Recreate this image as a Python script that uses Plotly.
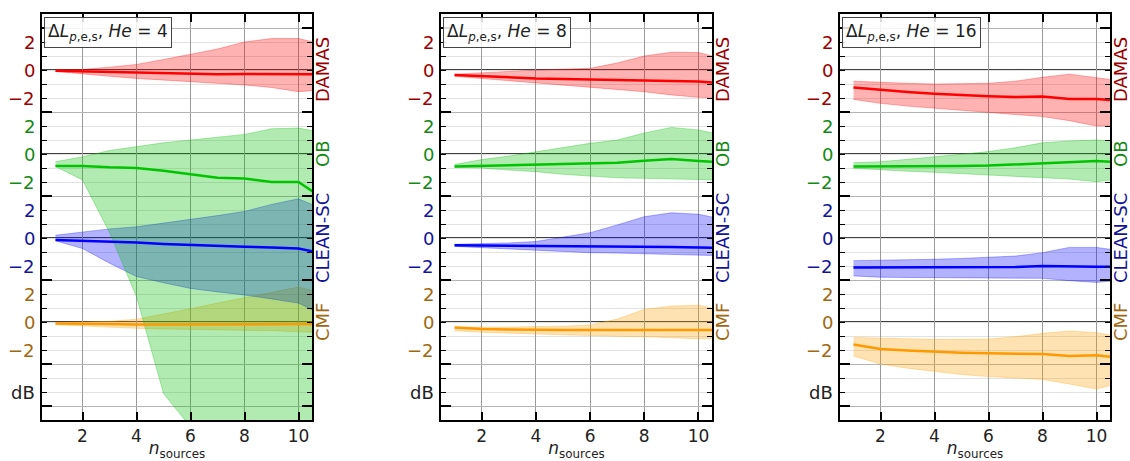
import plotly.graph_objects as go

# ---------------- data ----------------
n_sources = [1, 2, 3, 4, 5, 6, 7, 8, 9, 10, 11]
methods = ["DAMAS", "OB", "CLEAN-SC", "CMF"]
band_offsets = [0, -6, -12, -18]
he_values = [4, 8, 16]
ytick_rel = [2, 0, -2]
ytick_text = ["2", "0", "\u22122"]
band_boundaries = [3, -3, -9, -15, -21, -24]
xtick_vals = [2, 4, 6, 8, 10]

# He = 4
he4_damas_mean = [-0.05, -0.1, -0.15, -0.2, -0.25, -0.3, -0.3, -0.28, -0.28, -0.3, -0.3]
he4_damas_lo = [-0.1, -0.3, -0.45, -0.6, -0.72, -0.83, -0.95, -1.07, -1.25, -1.55, -1.4]
he4_damas_hi = [0.0, 0.05, 0.2, 0.4, 0.75, 1.1, 1.5, 2.0, 2.25, 2.25, 1.8]
he4_ob_mean = [-0.85, -0.85, -0.95, -1.0, -1.2, -1.45, -1.7, -1.75, -2.0, -2.0, -3.3]
he4_ob_lo = [-0.9, -1.85, -5.6, -10.2, -17.1, -19.5, -20.0, -20.0, -20.0, -20.0, -20.0]
he4_ob_hi = [-0.55, -0.2, 0.25, 0.55, 0.8, 1.0, 1.2, 1.4, 1.8, 1.85, 1.5]
he4_clean_mean = [-0.15, -0.2, -0.25, -0.33, -0.42, -0.5, -0.57, -0.62, -0.68, -0.75, -1.15]
he4_clean_lo = [-0.2, -0.75, -1.8, -2.75, -3.2, -3.6, -3.85, -4.07, -4.35, -4.65, -5.6]
he4_clean_hi = [0.2, 0.45, 0.65, 0.8, 1.05, 1.3, 1.6, 1.9, 2.4, 2.8, 2.0]
he4_cmf_mean = [-0.1, -0.15, -0.15, -0.17, -0.17, -0.17, -0.17, -0.15, -0.15, -0.15, -0.15]
he4_cmf_lo = [-0.2, -0.3, -0.38, -0.45, -0.5, -0.53, -0.55, -0.57, -0.62, -0.7, -0.75]
he4_cmf_hi = [-0.05, 0.0, 0.05, 0.2, 0.55, 0.95, 1.35, 1.75, 2.1, 2.5, 2.0]

# He = 8
he8_damas_mean = [-0.35, -0.45, -0.52, -0.6, -0.64, -0.67, -0.7, -0.72, -0.78, -0.83, -0.95]
he8_damas_lo = [-0.45, -0.6, -0.78, -0.95, -1.1, -1.24, -1.4, -1.55, -1.78, -1.95, -2.0]
he8_damas_hi = [-0.3, -0.22, -0.1, 0.0, 0.05, 0.12, 0.5, 1.0, 1.27, 1.25, 0.75]
he8_ob_mean = [-0.9, -0.86, -0.82, -0.79, -0.73, -0.67, -0.62, -0.48, -0.36, -0.5, -0.6]
he8_ob_lo = [-0.95, -1.0, -1.15, -1.26, -1.45, -1.6, -1.7, -1.74, -1.76, -1.82, -1.9]
he8_ob_hi = [-0.75, -0.4, -0.15, 0.15, 0.5, 0.76, 1.0, 1.5, 1.9, 1.72, 1.3]
he8_clean_mean = [-0.52, -0.53, -0.55, -0.57, -0.6, -0.62, -0.63, -0.63, -0.65, -0.68, -0.7]
he8_clean_lo = [-0.6, -0.7, -0.8, -0.9, -0.98, -1.05, -1.08, -1.12, -1.18, -1.24, -1.27]
he8_clean_hi = [-0.45, -0.42, -0.35, -0.25, 0.05, 0.38, 0.93, 1.52, 1.8, 1.7, 1.3]
he8_cmf_mean = [-0.4, -0.5, -0.54, -0.57, -0.57, -0.57, -0.57, -0.55, -0.56, -0.57, -0.58]
he8_cmf_lo = [-0.62, -0.74, -0.8, -0.86, -0.93, -0.98, -1.02, -1.05, -1.15, -1.2, -1.15]
he8_cmf_hi = [-0.35, -0.38, -0.37, -0.33, -0.3, -0.21, 0.21, 0.9, 1.14, 1.2, 0.8]

# He = 16
he16_damas_mean = [-1.25, -1.43, -1.57, -1.7, -1.8, -1.88, -1.93, -1.9, -2.07, -2.07, -2.2]
he16_damas_lo = [-2.1, -2.38, -2.58, -2.74, -2.9, -3.02, -3.18, -3.33, -3.62, -4.0, -4.0]
he16_damas_hi = [-0.8, -0.9, -0.95, -1.0, -1.0, -0.95, -0.8, -0.52, -0.3, -0.52, -0.8]
he16_ob_mean = [-0.9, -0.9, -0.88, -0.86, -0.85, -0.83, -0.76, -0.68, -0.62, -0.5, -0.6]
he16_ob_lo = [-1.02, -1.14, -1.23, -1.31, -1.4, -1.5, -1.58, -1.67, -1.79, -1.98, -1.75]
he16_ob_hi = [-0.62, -0.55, -0.38, -0.2, 0.0, 0.17, 0.45, 0.8, 0.93, 1.0, 0.9]
he16_clean_mean = [-2.1, -2.1, -2.1, -2.1, -2.1, -2.1, -2.08, -2.0, -2.05, -2.05, -2.05]
he16_clean_lo = [-2.71, -2.8, -2.82, -2.83, -2.83, -2.83, -2.85, -2.88, -3.05, -3.17, -3.0]
he16_clean_hi = [-1.62, -1.6, -1.56, -1.52, -1.46, -1.4, -1.29, -1.05, -0.67, -0.67, -0.95]
he16_cmf_mean = [-1.6, -1.93, -2.03, -2.12, -2.19, -2.24, -2.27, -2.29, -2.43, -2.38, -2.6]
he16_cmf_lo = [-2.43, -3.0, -3.3, -3.55, -3.75, -3.9, -4.0, -4.1, -4.43, -4.79, -4.3]
he16_cmf_hi = [-1.1, -1.17, -1.2, -1.24, -1.24, -1.22, -1.05, -0.81, -0.64, -0.76, -1.1]

panels = [
    {"DAMAS": (he4_damas_mean, he4_damas_lo, he4_damas_hi),
     "OB": (he4_ob_mean, he4_ob_lo, he4_ob_hi),
     "CLEAN-SC": (he4_clean_mean, he4_clean_lo, he4_clean_hi),
     "CMF": (he4_cmf_mean, he4_cmf_lo, he4_cmf_hi)},
    {"DAMAS": (he8_damas_mean, he8_damas_lo, he8_damas_hi),
     "OB": (he8_ob_mean, he8_ob_lo, he8_ob_hi),
     "CLEAN-SC": (he8_clean_mean, he8_clean_lo, he8_clean_hi),
     "CMF": (he8_cmf_mean, he8_cmf_lo, he8_cmf_hi)},
    {"DAMAS": (he16_damas_mean, he16_damas_lo, he16_damas_hi),
     "OB": (he16_ob_mean, he16_ob_lo, he16_ob_hi),
     "CLEAN-SC": (he16_clean_mean, he16_clean_lo, he16_clean_hi),
     "CMF": (he16_cmf_mean, he16_cmf_lo, he16_cmf_hi)},
]

# ---------------- styles ----------------
line_colors = {"DAMAS": "#ff0000", "OB": "#00c400", "CLEAN-SC": "#0000ff", "CMF": "#ff9900"}
fill_colors = {"DAMAS": "rgba(255,0,0,0.3)", "OB": "rgba(0,190,0,0.3)",
               "CLEAN-SC": "rgba(0,0,255,0.3)", "CMF": "rgba(255,160,0,0.3)"}
label_colors = {"DAMAS": "#9a0000", "OB": "#138a13", "CLEAN-SC": "#14149a", "CMF": "#a0680f"}
offset_of = dict(zip(methods, band_offsets))

W, H = 1130, 461
x_domains = [(42 / W, 312 / W), (441 / W, 712 / W), (840 / W, 1110 / W)]
y_domain = (41 / H, 447 / H)
FONT = "DejaVu Sans"

fig = go.Figure()
shapes = []
annotations = []

for p, data in enumerate(panels):
    k = "" if p == 0 else str(p + 1)
    xa, ya = "x" + k, "y" + k
    # fills (drawn in reverse order so that OB lies over CLEAN-SC)
    for m in reversed(methods):
        mean, lo, hi = data[m]
        off = offset_of[m]
        fig.add_trace(go.Scatter(x=n_sources, y=[v + off for v in lo], mode="lines",
                                 line=dict(color=fill_colors[m], width=1),
                                 xaxis=xa, yaxis=ya, showlegend=False, hoverinfo="skip"))
        fig.add_trace(go.Scatter(x=n_sources, y=[v + off for v in hi], mode="lines",
                                 line=dict(color=fill_colors[m], width=1),
                                 fill="tonexty", fillcolor=fill_colors[m],
                                 xaxis=xa, yaxis=ya, showlegend=False, hoverinfo="skip"))
    for m in methods:
        mean, lo, hi = data[m]
        off = offset_of[m]
        fig.add_trace(go.Scatter(x=n_sources, y=[v + off for v in mean], mode="lines",
                                 line=dict(color=line_colors[m], width=2.5),
                                 xaxis=xa, yaxis=ya, showlegend=False))

    fig.layout["xaxis" + k] = dict(
        domain=x_domains[p], anchor=ya, range=[0.5, 10.5],
        tickvals=xtick_vals, ticks="inside", ticklen=8, tickwidth=1.5, tickcolor="black",
        showline=True, linecolor="black", linewidth=1.5, mirror="allticks",
        showgrid=True, gridcolor="#9a9a9a", gridwidth=1, zeroline=False,
        tickfont=dict(family=FONT, size=17, color="#222"),
        title=dict(text="<i>n</i><sub>sources</sub>", standoff=2,
                   font=dict(family=FONT, size=17, color="#222")),
    )
    fig.layout["yaxis" + k] = dict(
        domain=y_domain, anchor=xa, range=[-25, 4],
        tickvals=band_boundaries, ticks="inside", ticklen=10, tickwidth=1.5, tickcolor="black",
        showticklabels=False, showline=True, linecolor="black", linewidth=1.5, mirror="allticks",
        showgrid=True, gridcolor="#b4b4b4", gridwidth=1, zeroline=False,
        minor=dict(dtick=1, tick0=0, ticks="inside", ticklen=5, tickwidth=1.2, tickcolor="black",
                   showgrid=True, gridcolor="#e2e2e2", gridwidth=1),
    )

    for m in methods:
        off = offset_of[m]
        shapes.append(dict(type="line", xref=xa + " domain", x0=0, x1=1, yref=ya, y0=off, y1=off,
                           line=dict(color="black", width=1.6), layer="below"))
        for v, t in zip(ytick_rel, ytick_text):
            annotations.append(dict(xref=xa + " domain", x=0, xanchor="right", xshift=-5,
                                    yref=ya, y=off + v, yanchor="middle", text=t, showarrow=False,
                                    font=dict(family=FONT, size=18, color=label_colors[m])))
        annotations.append(dict(xref=xa + " domain", x=1, xanchor="center", xshift=10,
                                yref=ya, y=off, yanchor="middle", text=m, textangle=-90,
                                showarrow=False,
                                font=dict(family=FONT, size=18, color=label_colors[m])))
    annotations.append(dict(xref=xa + " domain", x=0, xanchor="right", xshift=-5,
                            yref=ya, y=-23, yanchor="middle", text="dB", showarrow=False,
                            font=dict(family=FONT, size=18, color="#222")))
    annotations.append(dict(xref=xa + " domain", x=0, xanchor="left", xshift=2,
                            yref=ya + " domain", y=1, yanchor="top", yshift=-3,
                            text="\u0394<i>L</i><sub><i>p</i>,e,s</sub>, <i>He</i> = %d" % he_values[p],
                            showarrow=False, bgcolor="rgba(255,255,255,0.85)",
                            bordercolor="#444", borderwidth=1, borderpad=3,
                            font=dict(family=FONT, size=17, color="#222")))

fig.update_layout(width=W, height=H, autosize=False,
                  margin=dict(l=0, r=0, t=0, b=0),
                  paper_bgcolor="white", plot_bgcolor="white",
                  shapes=shapes, annotations=annotations, showlegend=False,
                  font=dict(family=FONT))

fig.write_html("out.html")
